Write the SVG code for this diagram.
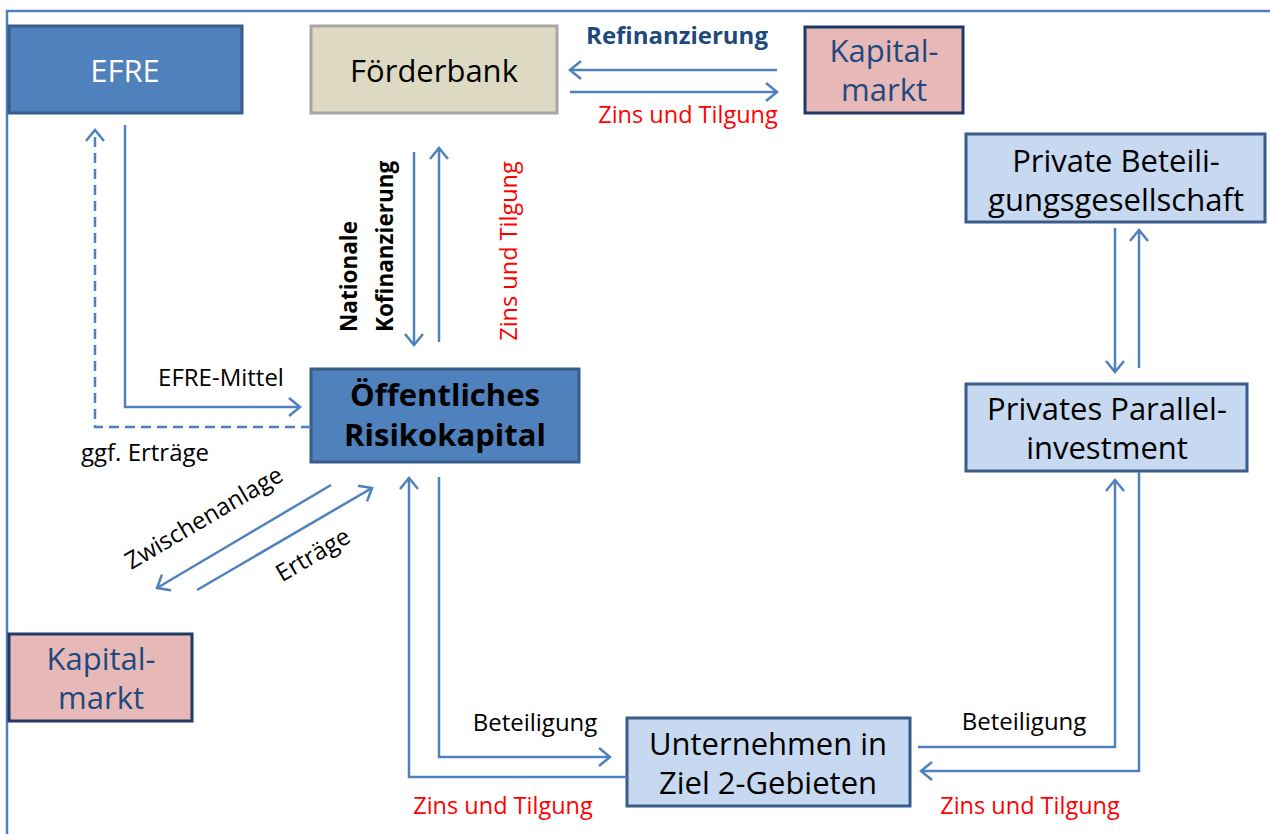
<svg xmlns="http://www.w3.org/2000/svg" width="1270" height="834" viewBox="0 0 1270 834">
<defs>
<marker id="arr" markerUnits="userSpaceOnUse" markerWidth="14" markerHeight="20" viewBox="0 0 14 20" refX="12" refY="10" orient="auto">
<path d="M1,1 L12,10 L1,19" fill="none" stroke="#4F81BD" stroke-width="2.5"/>
</marker>
</defs>
<style>
text{font-family:"Open Sans","Liberation Sans",sans-serif}
.box{stroke-width:3}
.blue{fill:#4F81BD;stroke:#385D8A}
.light{fill:#C6D9F1;stroke:#385D8A}
.pink{fill:#E6B9B8;stroke:#1F3864}
.beige{fill:#DDD9C3;stroke:#A6A6A6}
.big{font-size:31px;text-anchor:middle}
.lbl{font-size:24px;text-anchor:middle;fill:#000}
.red{font-size:23.5px;fill:#FF0000;text-anchor:middle}
.bl{font-size:22.5px;font-weight:bold;fill:#000}
.con{fill:none;stroke:#4F81BD;stroke-width:2.5}
</style>
<rect width="1270" height="834" fill="#FFFFFF"/>
<path d="M7,834 V11 H1270" fill="none" stroke="#4F81BD" stroke-width="2.5"/>

<g id="efre"><rect class="box blue" x="9" y="26" width="233" height="87"/><text class="big" x="125" y="82" fill="#FFFFFF">EFRE</text></g>
<g id="foerderbank"><rect class="box beige" x="311" y="26" width="246" height="87"/><text class="big" x="434" y="82" fill="#000">Förderbank</text></g>
<g id="kapitalmarkt-top"><rect class="box pink" x="805" y="27" width="158" height="86"/><text class="big" x="884" y="62" fill="#1F497D">Kapital-</text><text class="big" x="884" y="101" fill="#1F497D">markt</text></g>
<g id="private-bg"><rect class="box light" x="966" y="134" width="299" height="88"/><text class="big" x="1116" y="172" fill="#000">Private Beteili-</text><text class="big" x="1116" y="211" fill="#000">gungsgesellschaft</text></g>
<g id="parallel"><rect class="box light" x="966" y="384" width="281" height="87"/><text class="big" x="1107" y="420" fill="#000">Privates Parallel-</text><text class="big" x="1107" y="459" fill="#000">investment</text></g>
<g id="oeffentlich"><rect class="box blue" x="311" y="369" width="268" height="93"/><text class="big" x="445" y="406" fill="#000" font-weight="bold">Öffentliches</text><text class="big" x="445" y="446" fill="#000" font-weight="bold">Risikokapital</text></g>
<g id="kapitalmarkt-bottom"><rect class="box pink" x="9" y="634" width="183" height="87"/><text class="big" x="101" y="670" fill="#1F497D">Kapital-</text><text class="big" x="101" y="709" fill="#1F497D">markt</text></g>
<g id="unternehmen"><rect class="box light" x="627" y="718" width="283" height="88"/><text class="big" x="768" y="755" fill="#000">Unternehmen in</text><text class="big" x="768" y="794" fill="#000">Ziel 2-Gebieten</text></g>

<g id="connectors">
<line class="con" x1="777" y1="70" x2="570" y2="70" marker-end="url(#arr)"/>
<line class="con" x1="570" y1="92" x2="777" y2="92" marker-end="url(#arr)"/>
<polyline class="con" points="125,125 125,407 300,407" marker-end="url(#arr)"/>
<polyline class="con" points="311,427 95,427 95,130" stroke-dasharray="10,6" marker-end="url(#arr)"/>
<line class="con" x1="414" y1="152" x2="414" y2="345" marker-end="url(#arr)"/>
<line class="con" x1="439" y1="342" x2="439" y2="148" marker-end="url(#arr)"/>
<line class="con" x1="331" y1="485" x2="157" y2="588" marker-end="url(#arr)"/>
<line class="con" x1="197" y1="590" x2="372" y2="488" marker-end="url(#arr)"/>
<polyline class="con" points="439,477 439,757 610,757" marker-end="url(#arr)"/>
<polyline class="con" points="627,777 409,777 409,478" marker-end="url(#arr)"/>
<polyline class="con" points="918,747 1115,747 1115,480" marker-end="url(#arr)"/>
<polyline class="con" points="1139,472 1139,771 921,771" marker-end="url(#arr)"/>
<line class="con" x1="1115" y1="228" x2="1115" y2="372" marker-end="url(#arr)"/>
<line class="con" x1="1139" y1="368" x2="1139" y2="230" marker-end="url(#arr)"/>

<text x="677" y="44" font-size="24" font-weight="bold" fill="#1F497D" text-anchor="middle">Refinanzierung</text>
<text class="red" x="688" y="123">Zins und Tilgung</text>
<text class="lbl" x="221" y="386">EFRE-Mittel</text>
<text class="lbl" x="145" y="461">ggf. Erträge</text>
<text class="bl" transform="translate(357,332) rotate(-90)">Nationale</text>
<text class="bl" transform="translate(393,332) rotate(-90)">Kofinanzierung</text>
<text class="red" transform="translate(517,251) rotate(-90)">Zins und Tilgung</text>
<text class="lbl" transform="translate(204,518) rotate(-30.5)" dy="8">Zwischenanlage</text>
<text class="lbl" transform="translate(313,555) rotate(-30.5)" dy="8">Erträge</text>
<text class="lbl" x="535" y="731">Beteiligung</text>
<text class="red" x="503" y="814">Zins und Tilgung</text>
<text class="lbl" x="1024" y="730">Beteiligung</text>
<text class="red" x="1030" y="814">Zins und Tilgung</text>
</g>
</svg>
